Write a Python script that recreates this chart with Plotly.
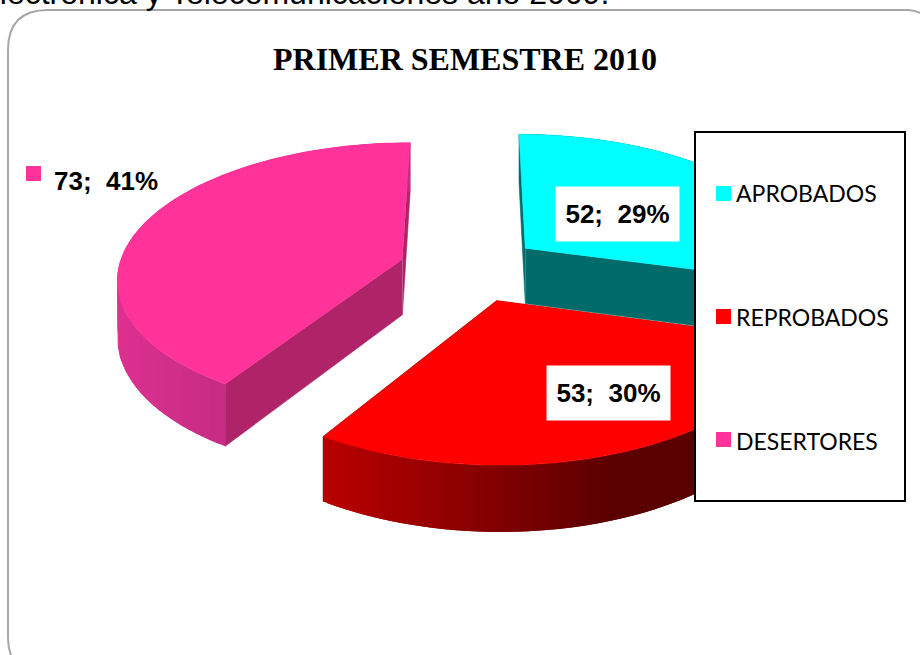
import numpy as np
import plotly.graph_objects as go

# ---- data ----
categories = ["APROBADOS", "REPROBADOS", "DESERTORES"]
counts = [52, 53, 73]
percent_labels = ["29%", "30%", "41%"]
title_text = "PRIMER SEMESTRE 2010"
top_text = "electrónica y Telecomunicaciones año 2009."

top_colors = ["#00FFFF", "#FF0000", "#FF3399"]
wall_colors = ["#006B6B", "#7A0000", "#AF2468"]
rim_left = ["#006B6B", "#B80000", "#DE3090"]
rim_right = ["#006B6B", "#5A0000", "#C42C84"]

# ---- pie projection (tilted, perspective, exploded) ----
CX, CY = 470.0, 268.5
SX, SY = 284.0, 134.0
PERSP = 0.13
EXPLODE = 0.25
DEPTH = 56.0


def project(px, py, lower=False):
    w = 1 - PERSP * py
    X = CX + SX * px / w
    Y = CY + SY * py / w
    if lower:
        Y = Y + DEPTH / w
    return X, Y


def mix(c1, c2, t):
    t = min(max(t, 0), 1)
    a = [int(c1[i:i + 2], 16) for i in (1, 3, 5)]
    b = [int(c2[i:i + 2], 16) for i in (1, 3, 5)]
    return "rgb(%d,%d,%d)" % tuple(round(a[i] + (b[i] - a[i]) * t) for i in range(3))


fig = go.Figure()


def poly(x, y, color, edge=True):
    fig.add_trace(go.Scatter(x=list(x), y=list(y), mode="lines", fill="toself", fillcolor=color,
                             line=dict(color=color, width=0.6 if edge else 0),
                             hoverinfo="skip", showlegend=False))


total = sum(counts)
edges = np.concatenate([[0], np.cumsum(counts)]) / total * 2 * np.pi
rim_span = {0: (520, 700), 1: (325, 610), 2: (118, 230)}

# back-to-front: cyan, pink, red
for i in [0, 2, 1]:
    a0, a1 = edges[i], edges[i + 1]
    mid = (a0 + a1) / 2
    ax, ay = EXPLODE * np.sin(mid), -EXPLODE * np.cos(mid)
    th = np.linspace(a0, a1, 121)
    px = ax + np.sin(th)
    py = ay - np.cos(th)
    # radial walls
    for k in (0, -1):
        X1, Y1 = project(np.array([ax, px[k]]), np.array([ay, py[k]]))
        X2, Y2 = project(np.array([px[k], ax]), np.array([py[k], ay]), lower=True)
        poly(np.r_[X1, X2], np.r_[Y1, Y2], wall_colors[i])
    # rim, shaded across the screen: each strip overlaps the next, so no seams show
    Xt, Yt = project(px, py)
    Xb, Yb = project(px, py, lower=True)
    lo, hi = rim_span[i]
    idx = list(range(0, len(th) - 1, 2))
    if i == 2:
        idx = idx[::-1]  # pink's arc runs right to left
    for j in idx:
        s, e = max(j - 1, 0), min(j + 4, len(th))
        xm = Xt[j:j + 3].mean()
        col = mix(rim_left[i], rim_right[i], (xm - lo) / (hi - lo))
        poly(np.r_[Xt[s:e], Xb[s:e][::-1]], np.r_[Yt[s:e], Yb[s:e][::-1]], col, edge=False)
    # top face
    poly(np.r_[project(ax, ay)[0], Xt], np.r_[project(ax, ay)[1], Yt], top_colors[i])

# legend entries: the text comes from the legend, the swatches are drawn as squares beside it
for name in categories:
    fig.add_trace(go.Scatter(x=[None], y=[None], mode="markers", name=name, legendgroup=name,
                             marker=dict(symbol="square", size=1, color="rgba(0,0,0,0)")))

W, H = 920, 655
swatch_y = [193.5, 316.5, 439.5]
shapes = [
    dict(type="path", layer="below", xref="x", yref="y",
         path="M 25 675 Q 8 660 8 638 L 8 50 Q 8 10 48 10 L 908 10 Q 915 10 925 15 L 925 675 Z",
         line=dict(color="#A6A6A6", width=2), fillcolor="white"),
    dict(type="rect", layer="above", xref="x", yref="y", x0=695, x1=905, y0=132, y1=501,
         line=dict(color="black", width=2), fillcolor="white"),
    dict(type="rect", layer="above", xref="x", yref="y", x0=26, x1=41, y0=166, y1=181,
         line=dict(width=0), fillcolor=top_colors[2]),
]
for sy, col in zip(swatch_y, top_colors):
    shapes.append(dict(type="rect", layer="above", xref="x", yref="y", x0=716, x1=731,
                       y0=sy - 7.5, y1=sy + 7.5, line=dict(width=0), fillcolor=col))

label_pos = [(617, 214, True), (608.5, 393, True), (106, 181, False)]
annotations = [
    dict(text="<b>%s</b>" % title_text, x=465, y=59, xref="x", yref="y", showarrow=False,
         font=dict(family="Liberation Serif", size=32, color="black")),
    dict(text=top_text, x=611, y=13, xref="x", yref="y", xanchor="right", yanchor="bottom",
         showarrow=False, font=dict(family="Liberation Sans", size=32, color="black")),
]
for (x, y, boxed), c, p in zip(label_pos, counts, percent_labels):
    a = dict(text="<b>%d;\u00a0\u00a0%s</b>" % (c, p), x=x, y=y, xref="x", yref="y", showarrow=False,
             font=dict(family="Liberation Sans", size=26, color="black"))
    if boxed:
        a.update(bgcolor="white", width=121, height=52)
    annotations.append(a)

fig.update_layout(
    width=W, height=H, margin=dict(l=0, r=0, t=0, b=0), autosize=False,
    paper_bgcolor="white", plot_bgcolor="white",
    xaxis=dict(range=[0, W], visible=False, fixedrange=True),
    yaxis=dict(range=[H, 0], visible=False, fixedrange=True),
    shapes=shapes, annotations=annotations,
    legend=dict(x=696 / W, y=1 - 172 / H, xanchor="left", yanchor="top", bgcolor="rgba(0,0,0,0)",
                borderwidth=0, tracegroupgap=91, itemsizing="constant", itemwidth=30,
                font=dict(family="Lato", size=23, color="black")),
    showlegend=True,
)
fig.write_html("out.html", config=dict(displayModeBar=False),
               post_script="document.body.style.margin='0';document.body.style.overflow='hidden';")
